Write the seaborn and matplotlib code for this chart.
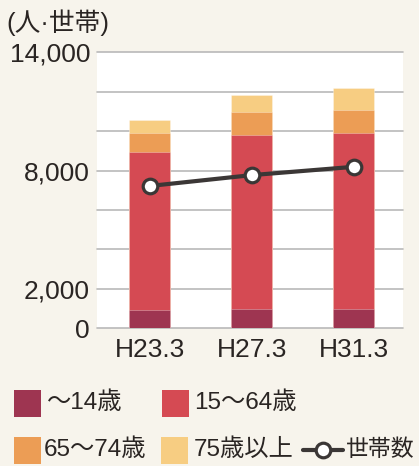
import matplotlib
matplotlib.use("Agg")
import matplotlib.pyplot as plt
import seaborn as sns
import pandas as pd
import numpy as np
from matplotlib.patches import Rectangle
from matplotlib.lines import Line2D

# ---- data ----
periods = ["H23.3", "H27.3", "H31.3"]
age_0_14 = [930, 1000, 990]
age_15_64 = [8030, 8830, 8940]
age_65_74 = [940, 1150, 1150]
age_75_plus = [670, 860, 1120]
households = [7220, 7770, 8190]
series_labels = ["〜14歳", "15〜64歳", "65〜74歳", "75歳以上"]
line_label = "世帯数"
unit_label = "(人·世帯)"
y_ticks = [0, 2000, 4000, 6000, 8000, 10000, 12000, 14000]
y_tick_labels = ["0", "2,000", "", "", "8,000", "", "", "14,000"]

colors = ["#9e3551", "#d54a53", "#ec9d55", "#f7cd82"]
line_color = "#3b3736"
bg = "#f7f4ec"
text_color = "#2a2523"

sns.set_theme(style="white")
plt.rcParams["font.family"] = ["Liberation Sans", "Noto Sans CJK JP", "DejaVu Sans"]

W, H = 419, 466
fig = plt.figure(figsize=(W / 100, H / 100), dpi=100, facecolor=bg)
ax = fig.add_axes([97 / W, 1 - 328.3 / H, 306 / W, 276 / H])
ax.set_facecolor("white")

df = pd.DataFrame({"period": periods, "s0": age_0_14, "s1": age_15_64,
                   "s2": age_65_74, "s3": age_75_plus, "hh": households})

bottom = np.zeros(len(periods))
for i, col in enumerate(["s0", "s1", "s2", "s3"]):
    sns.barplot(data=df, x="period", y=df[col] + bottom, color=colors[i],
                ax=ax, width=0.4, saturation=1,
                edgecolor=(1, 1, 1, 0.35), linewidth=0.6)
    bottom += df[col].values
# each layer is drawn as a cumulative total from 0; keep lower layers on top
for i, cont in enumerate(ax.containers):
    for p in cont.patches:
        p.set_zorder(10 - i)

ax.plot(range(len(periods)), households, color=line_color, lw=3,
        marker="o", markersize=10.5, markerfacecolor="white",
        markeredgecolor=line_color, markeredgewidth=2.3, zorder=20)

ax.set_ylim(0, 14000)
ax.set_xlim(-0.518, 2.485)
ax.set_yticks(y_ticks)
ax.set_yticklabels(y_tick_labels)
ax.yaxis.grid(True, color="#b9b9b9", lw=1.2, zorder=0)
for gl in ax.get_ygridlines():
    gl.set_clip_on(False)
ax.set_axisbelow(True)
for s in ax.spines.values():
    s.set_visible(False)
ax.tick_params(axis="both", length=0, labelsize=19, colors=text_color)
ax.tick_params(axis="y", pad=5)
ax.tick_params(axis="x", pad=7)
ax.set_xlabel("")
ax.set_ylabel("")

fig.text(6 / W, 1 - 23 / H, unit_label, fontsize=18.5, color=text_color,
         va="center", ha="left")

# ---- legend (manual layout) ----
def px(x, y):
    return x / W, 1 - y / H

legend_items = [
    (series_labels[0], colors[0], 14, 403, 47),
    (series_labels[1], colors[1], 162, 403, 194),
    (series_labels[2], colors[2], 14, 450, 44),
    (series_labels[3], colors[3], 161, 450, 194),
]
for lab, c, x0, yc, tx in legend_items:
    fx, fy = px(x0, yc + 13.5)
    fig.patches.append(Rectangle((fx, fy), 27 / W, 27 / H, transform=fig.transFigure,
                                 facecolor=c, edgecolor="none"))
    fig.text(*px(tx, yc), lab, fontsize=17.5, color=text_color, va="center", ha="left")

lx0, ly = px(303, 450)
lx1, _ = px(343, 450)
fig.lines.append(Line2D([lx0, lx1], [ly, ly], transform=fig.transFigure,
                        color=line_color, lw=3))
mx, _ = px(322.7, 450)
fig.lines.append(Line2D([mx], [ly], transform=fig.transFigure, marker="o",
                        markersize=10.5, markerfacecolor="white",
                        markeredgecolor=line_color, markeredgewidth=2.3, lw=0))
fig.text(*px(345.5, 450), line_label, fontsize=16.5, color=text_color, va="center", ha="left")

fig.savefig("out.png", dpi=100, facecolor=bg)
